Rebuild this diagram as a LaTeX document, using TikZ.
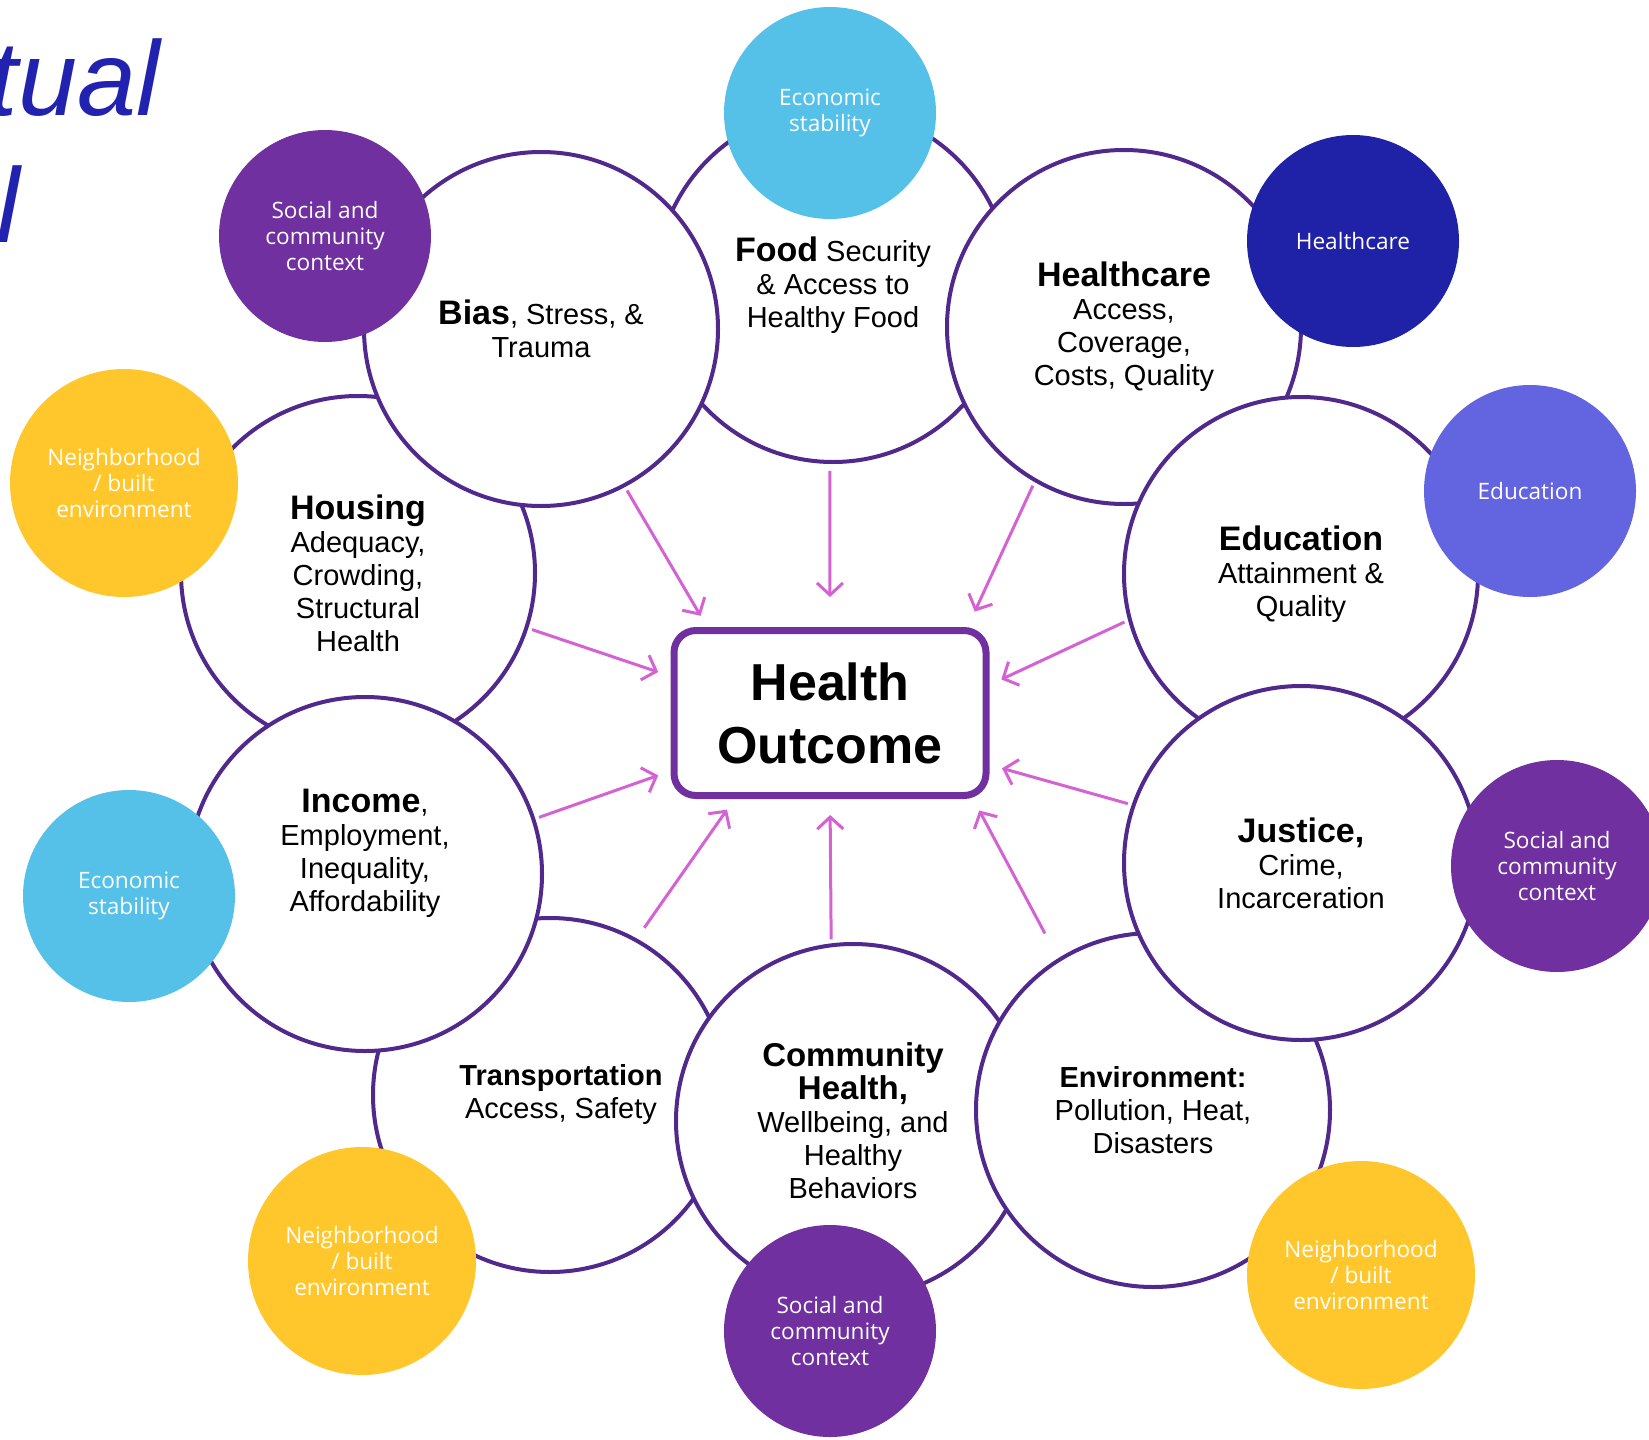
\documentclass[tikz,border=0pt]{standalone}
\usepackage{fontspec}
\setmainfont{Liberation Sans}
\newfontfamily\tagfont{Open Sans}
\usetikzlibrary{arrows.meta}
\definecolor{ringc}{HTML}{51288C}
\definecolor{boxc}{HTML}{7030A0}
\definecolor{arrc}{HTML}{D462D2}
\definecolor{skyc}{HTML}{55C1E8}
\definecolor{plumc}{HTML}{7030A0}
\definecolor{navyc}{HTML}{1F22A6}
\definecolor{lavc}{HTML}{6264E0}
\definecolor{sunc}{HTML}{FFC72C}
\definecolor{titlec}{HTML}{2222B0}
\def\hd#1{{\fontsize{17}{16.5}\selectfont\bfseries #1}}
\def\hdc#1{{\fontsize{16.5}{16.5}\selectfont\bfseries #1}}

\begin{document}
\begin{tikzpicture}[x=0.5pt, y=-0.5pt,
    txt/.style={align=center, inner sep=0pt, font=\fontsize{14.5}{16.5}\selectfont},
    topic/.style={txt, circle, draw=ringc, line width=2pt, fill=white, minimum size=177pt},
    tag/.style={circle, fill=#1, minimum size=106pt, inner sep=0pt, align=center, text=white, font=\tagfont\fontsize{11.3}{12.8}\selectfont},
    arr/.style={draw=arrc, line width=1.5pt, -{Straight Barb[length=6pt,width=13pt]}, shorten <=2pt, shorten >=6.5pt}]
    \useasboundingbox (0,0) rectangle (1649,1440);

    \node[anchor=base east, inner sep=0pt, text=titlec, font=\fontsize{53}{60}\selectfont\itshape] (ttl) at (160,115) {tual};
    \node[anchor=base west, inner sep=0pt, text=titlec, font=\fontsize{53}{60}\selectfont\itshape] (ttlb) at (-4,242) {l};

    % ring of white circles, back to front
    \node[topic] (food) at (833,285) {\hd{Food} Security\\ \& Access to\\ Healthy Food};
    \node[topic] (hou) at (358,573) {\hd{Housing}\\ Adequacy,\\ Crowding,\\ Structural\\ Health};
    \node[topic] (tra) at (550,1095) {};
    \node[txt] (tratext) at (561,1094) {\textbf{Transportation}\\ Access, Safety};
    \node[topic] (com) at (853,1121) {\hdc{Community}\\ \hdc{Health,}\\ Wellbeing, and\\ Healthy\\ Behaviors};
    \node[topic] (env) at (1153,1110) {\textbf{Environment:}\\ Pollution, Heat,\\ Disasters};
    \node[topic] (hc) at (1124,327) {\hd{Healthcare}\\ Access,\\ Coverage,\\ Costs, Quality};
    \node[topic] (edu) at (1301,574) {\hd{Education}\\ Attainment \&\\ Quality};
    \node[topic] (jus) at (1301,863) {\hd{Justice,}\\ Crime,\\ Incarceration};
    \node[topic] (inc) at (365,874) {};
    \node[txt] (inctext) at (365,853) {\hd{Income},\\ Employment,\\ Inequality,\\ Affordability};
    \node[topic] (bias) at (541,329) {\hd{Bias}, Stress, \&\\ Trauma};

    % coloured tags
    \node[tag=skyc] (econa) at (830,113) {Economic\\ stability};
    \node[tag=plumc] (soca) at (325,236) {Social and\\ community\\ context};
    \node[tag=navyc] (hctag) at (1353,241) {Healthcare};
    \node[tag=lavc] (edutag) at (1530,491) {Education};
    \node[tag=plumc] (socb) at (1557,866) {Social and\\ community\\ context};
    \node[tag=sunc, minimum size=114pt] (nbha) at (1361,1275) {Neighborhood\\ / built\\ environment};
    \node[tag=plumc] (socc) at (830,1331) {Social and\\ community\\ context};
    \node[tag=sunc, minimum size=114pt] (nbhb) at (362,1261) {Neighborhood\\ / built\\ environment};
    \node[tag=skyc] (econb) at (129,896) {Economic\\ stability};
    \node[tag=sunc, minimum size=114pt] (nbhc) at (124,483) {Neighborhood\\ / built\\ environment};

    \node[draw=boxc, line width=3.5pt, rounded corners=11pt, fill=white, minimum width=156pt, minimum height=82.5pt, inner sep=0pt, align=center, font=\fontsize{26}{31.5}\selectfont\bfseries] (out) at (830,713) {Health\\ Outcome};

    \draw[arr] (bias.-62.6) -- (out.145);
    \draw[arr, shorten <=3.5pt, shorten >=15pt] (food.-91) -- (out.90);
    \draw[arr, shorten >=8.5pt] (hc.-120) -- (out.32);
    \draw[arr] (edu.-165) -- (out.10.6);
    \draw[arr] (jus.161.5) -- (out.-18.2);
    \draw[arr, shorten <=14pt] (env.122.6) -- (out.-31.9);
    \draw[arr, shorten >=8pt] (com.97) -- (out.-90);
    \draw[arr, shorten <=6.5pt] (tra.61) -- (out.-138.5);
    \draw[arr] (inc.18.3) -- (out.-160.1);
    \draw[arr] (hou.-18.8) -- (out.167.1);
\end{tikzpicture}
\end{document}
